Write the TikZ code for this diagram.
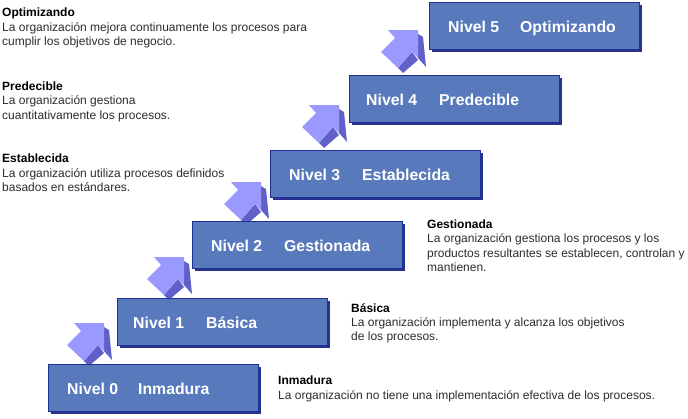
\documentclass[tikz,border=0pt]{standalone}
\usepackage{fontspec}
\setmainfont{Liberation Sans}
\definecolor{boxfill}{RGB}{88,122,188}
\definecolor{boxedge}{RGB}{30,50,150}
\definecolor{boxshadow}{RGB}{40,50,140}
\definecolor{arrowlight}{RGB}{153,153,255}
\definecolor{arrowdark}{RGB}{96,96,200}
\definecolor{txt}{RGB}{45,45,45}
\tikzset{x=1pt,y=-1pt,
 levelbox/.style={draw=boxedge,line width=0.7pt,fill=boxfill,minimum width=210pt,minimum height=47pt,inner sep=0pt,anchor=north west},
 leveltext/.style={text=white,font=\fontsize{15.8}{18}\selectfont\bfseries,anchor=base west,inner sep=0pt},
 desc/.style={anchor=north west,inner sep=0pt,align=left,text=txt,font=\fontsize{12}{14.4}\selectfont}}
\newcommand{\stepshape}[7]{%
 \fill[boxshadow] (#1+3,#2+3) rectangle ++(210,47);
 \node[levelbox] (#6) at (#1,#2) {};
 \node[leveltext] (#6a) at (#1+#7,#2+30) {#3};
 \node[leveltext] (#6b) at (#1+#4,#2+30) {#5};
}
\newcommand{\uparr}[2]{%
 \begin{scope}[shift={(#1,#2)}]
 \fill[arrowdark] (0,4) -- (5,7) -- (8,37) -- (0,28) -- cycle;
 \fill[arrowdark] (-20,38) -- (-15,43) -- (0,30) -- (-6,22) -- cycle;
 \fill[arrowlight] (0,0) -- (-30,0) -- (-23,8) -- (-37,22) -- (-20,38) -- (-6,22) -- (0,28) -- cycle;
 \end{scope}}
\begin{document}
\begin{tikzpicture}
\useasboundingbox (0,0) rectangle (688,418);
\fill[white] (0,0) rectangle (688,418);
\uparr{104}{323}
\uparr{184}{257}
\uparr{261}{182}
\uparr{339}{105}
\uparr{418}{30}
\stepshape{48}{364}{Nivel 0}{90}{Inmadura}{a}{19}
\stepshape{117}{298}{Nivel 1}{89}{Básica}{b}{16}
\stepshape{192}{221}{Nivel 2}{92}{Gestionada}{c}{19}
\stepshape{270}{150}{Nivel 3}{92}{Establecida}{d}{19}
\stepshape{349}{75}{Nivel 4}{90}{Predecible}{e}{17}
\stepshape{429}{2}{Nivel 5}{91}{Optimizando}{f}{19}
\node[desc] (t5) at (2,8) {\textcolor{black}{\textbf{Optimizando}}\\La organización mejora continuamente los procesos para\\cumplir los objetivos de negocio.};
\node[desc] (t4) at (2,81.5) {\textcolor{black}{\textbf{Predecible}}\\La organización gestiona\\cuantitativamente los procesos.};
\node[desc] (t3) at (2,154) {\textcolor{black}{\textbf{Establecida}}\\La organización utiliza procesos definidos\\basados en estándares.};
\node[desc] (t2) at (427,219.5) {\textcolor{black}{\textbf{Gestionada}}\\La organización gestiona los procesos y los\\productos resultantes se establecen, controlan y\\mantienen.};
\node[desc] (t1) at (351,303) {\textcolor{black}{\textbf{Básica}}\\La organización implementa y alcanza los objetivos\\de los procesos.};
\node[desc] (t0) at (278,376) {\textcolor{black}{\textbf{Inmadura}}\\La organización no tiene una implementación efectiva de los procesos.};
\end{tikzpicture}
\end{document}
